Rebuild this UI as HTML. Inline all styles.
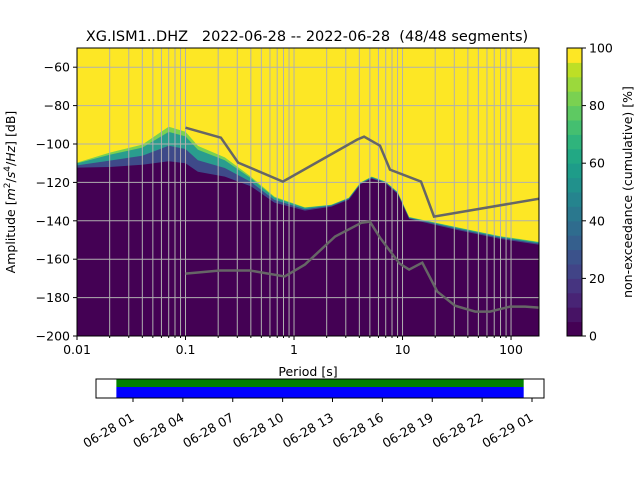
<!DOCTYPE html>
<html><head><meta charset="utf-8"><style>
body{margin:0;background:#fff;}
svg{display:block;font-family:"DejaVu Sans","Liberation Sans",sans-serif;}
</style></head><body>
<svg id="chart" width="640" height="480" viewBox="0 0 640 480" xmlns="http://www.w3.org/2000/svg">
<text x="307" y="41" font-size="14.5" text-anchor="middle" xml:space="preserve">XG.ISM1..DHZ   2022-06-28 -- 2022-06-28  (48/48 segments)</text>
<defs><clipPath id="pc"><rect x="77" y="48" width="462" height="288"/></clipPath></defs>
<g id="plot" clip-path="url(#pc)"></g>
<g id="axes"></g>
<g id="cbar"></g>
<g id="timeline"></g>
</svg>
<script>
// PSD envelope data (period [s], dB)
const envPeriods=[0.01,0.02,0.04,0.07,0.1,0.13,0.23,0.4,0.66,1.26,2.2,3.2,4.1,5.2,7,9,11.5,30,80,181];
const yellowBottom=[-109.7,-104.5,-100.3,-91,-93.6,-101,-107,-117,-127.4,-133,-131.6,-128,-120,-117,-119.6,-125,-138,-143,-148,-151];
const darkTop=[-112.3,-112,-110.8,-109,-110,-114.5,-117,-122,-130.5,-134.7,-132.7,-129,-121,-118,-120.5,-126,-139,-144.5,-149.5,-152.5];
const nhnmPeriods=[0.1,0.212,0.305,0.79,3.81,4.42,6.2,7.67,14.8,19.5,181];
const nhnmDb=[-91.5,-96.7,-109.7,-119.6,-97.7,-96.2,-100.9,-113.4,-119.6,-137.8,-128.5];
const nlnmPeriods=[0.1,0.208,0.393,0.82,1.26,2.39,4.2,5.0,6.2,9.4,11.5,15.2,20.9,30.5,46.7,64,98,135,181];
const nlnmDb=[-167.5,-165.9,-165.9,-169,-162.8,-148.2,-141,-140.4,-148.8,-162.3,-165.4,-161.8,-176.9,-184.2,-187.3,-187.3,-184.7,-184.7,-185.2];
const yTicks=[-60,-80,-100,-120,-140,-160,-180,-200];
const xTickVals=[0.01,0.1,1,10,100];
const xTickLabels=["0.01","0.1","1","10","100"];
const cbTicks=[0,20,40,60,80,100];
const timeLabels=["06-28 01","06-28 04","06-28 07","06-28 10","06-28 13","06-28 16","06-28 19","06-28 22","06-29 01"];
const timeHours=[1,4,7,10,13,16,19,22,25];
const segStart=0, segEnd=24.5; // hours of coverage

const NS="http://www.w3.org/2000/svg";
const X0=77,X1=539,Y0=48,Y1=336;
const lmin=Math.log10(0.01),lmax=Math.log10(181);
const sx=p=>X0+(Math.log10(p)-lmin)/(lmax-lmin)*(X1-X0);
const sy=d=>Y0+(-50-d)/150*(Y1-Y0);
function mk(tag,parent,attrs){const e=document.createElementNS(NS,tag);for(const k in attrs)e.setAttribute(k,attrs[k]);parent.appendChild(e);return e;}
const plot=document.getElementById('plot'),axes=document.getElementById('axes');
let r=mk('rect',plot,{x:X0,y:Y0,width:X1-X0,height:Y1-Y0,fill:'#fde725'});


function bandPts(fr){return envPeriods.map((p,i)=>{const d=yellowBottom[i]+(darkTop[i]-yellowBottom[i])*fr;return sx(p).toFixed(1)+','+sy(d).toFixed(1);});}
const bands=[[0,'#7ad151'],[0.15,'#2a9d8e'],[0.55,'#3e4a89']];
bands.forEach((b,k)=>{
  const pts=bandPts(b[0]);
  const e=mk('polygon',plot,{points:pts.join(' ')+` ${X1},${Y1} ${X0},${Y1}`,fill:b[1]});
  
  
});
const dk=mk('polygon',plot,{points:bandPts(1).join(' ')+` ${X1},${Y1} ${X0},${Y1}`,fill:'#440154'});


// grid
for(let dec=-2;dec<=2;dec++){for(let m=1;m<10;m++){const p=m*Math.pow(10,dec);if(p>181)continue;const x=sx(p);
 const g=mk('line',plot,{x1:x,x2:x,y1:Y0,y2:Y1,stroke:'#b0b0b0','stroke-width':1});
 
 }}
yTicks.forEach(v=>{const y=sy(v);const g=mk('line',plot,{x1:X0,x2:X1,y1:y,y2:y,stroke:'#b0b0b0','stroke-width':1});
 
 });
function line(ps,ds,name){const e=mk('polyline',plot,{points:ps.map((p,i)=>sx(p).toFixed(1)+','+sy(ds[i]).toFixed(1)).join(' '),fill:'none',stroke:'#666','stroke-width':2.5});
 
 }
line(nhnmPeriods,nhnmDb,'nhnm-line');
line(nlnmPeriods,nlnmDb,'nlnm-line');
const fr=mk('rect',axes,{x:X0,y:Y0,width:X1-X0,height:Y1-Y0,fill:'none',stroke:'#000','stroke-width':1});


yTicks.forEach(v=>{const y=sy(v);mk('line',axes,{x1:X0-4,x2:X0,y1:y,y2:y,stroke:'#000'});
 const t=mk('text',axes,{x:X0-7,y:y+4.5,'font-size':12.5,'text-anchor':'end'});t.textContent=String(v).replace('-','\u2212');
 
 });
xTickVals.forEach((v,i)=>{const x=sx(v);mk('line',axes,{x1:x,x2:x,y1:Y1,y2:Y1+4,stroke:'#000'});
 const t=mk('text',axes,{x:x,y:Y1+18,'font-size':12.5,'text-anchor':'middle'});t.textContent=xTickLabels[i];
 
 });
for(let dec=-2;dec<=2;dec++)for(let m=2;m<10;m++){const p=m*Math.pow(10,dec);if(p>181)continue;const x=sx(p);mk('line',axes,{x1:x,x2:x,y1:Y1,y2:Y1+2,stroke:'#000'});}
let t=mk('text',axes,{x:308,y:376,'font-size':12.5,'text-anchor':'middle'});t.textContent='Period [s]';


t=mk('text',axes,{x:0,y:0,'font-size':12.5,'text-anchor':'middle',transform:'translate(15,192) rotate(-90)'});
t.innerHTML='Amplitude [<tspan font-style="italic">m</tspan><tspan font-size="9" dy="-5">2</tspan><tspan dy="5">/</tspan><tspan font-style="italic">s</tspan><tspan font-size="9" dy="-5">4</tspan><tspan dy="5">/</tspan><tspan font-style="italic">Hz</tspan>] [dB]';


// colorbar
const cb=document.getElementById('cbar');
const vir=['#440154','#471365','#482475','#463480','#414487','#3b528b','#355f8d','#2f6c8e','#2a788e','#25848e','#21918c','#1e9c89','#22a884','#2fb47c','#44bf70','#5ec962','#7ad151','#9bd93c','#bddf26','#fde725'];
const CX=567,CW=15,CY0=48,CY1=336,h=(CY1-CY0)/20;
vir.forEach((c,i)=>{const e=mk('rect',cb,{x:CX,y:CY1-(i+1)*h,width:CW,height:h+0.5,fill:c});
 
 });
mk('rect',cb,{x:CX,y:CY0,width:CW,height:CY1-CY0,fill:'none',stroke:'#000'});
cbTicks.forEach(v=>{const y=CY1-v/100*(CY1-CY0);mk('line',cb,{x1:CX+CW,x2:CX+CW+4,y1:y,y2:y,stroke:'#000'});
 const tt=mk('text',cb,{x:CX+CW+7,y:y+4.5,'font-size':12.5});tt.textContent=v;
 
 });
t=mk('text',cb,{x:0,y:0,'font-size':12.5,'text-anchor':'middle',transform:'translate(632,192) rotate(-90)'});t.textContent='non-exceedance (cumulative) [%]';


// timeline
const tl=document.getElementById('timeline');
const TX0=96,TX1=544,TY0=379,TY1=398;
const tx=hh=>133+(hh-1)*(532-133)/24;
let g=mk('rect',tl,{x:tx(segStart),y:TY0,width:tx(segEnd)-tx(segStart),height:8,fill:'#008000'});


g=mk('rect',tl,{x:tx(segStart),y:TY0+8,width:tx(segEnd)-tx(segStart),height:TY1-TY0-8,fill:'#0000ff'});


mk('rect',tl,{x:TX0,y:TY0,width:TX1-TX0,height:TY1-TY0,fill:'none',stroke:'#000'});
timeHours.forEach((hh,i)=>{const x=tx(hh);mk('line',tl,{x1:x,x2:x,y1:TY1,y2:TY1+4,stroke:'#000'});
 const l=mk('text',tl,{x:0,y:0,'font-size':12.5,'text-anchor':'end',transform:`translate(${x+2},${TY1+22}) rotate(-30)`});
 l.textContent=timeLabels[i];
 
 });
</script>
</body></html>
